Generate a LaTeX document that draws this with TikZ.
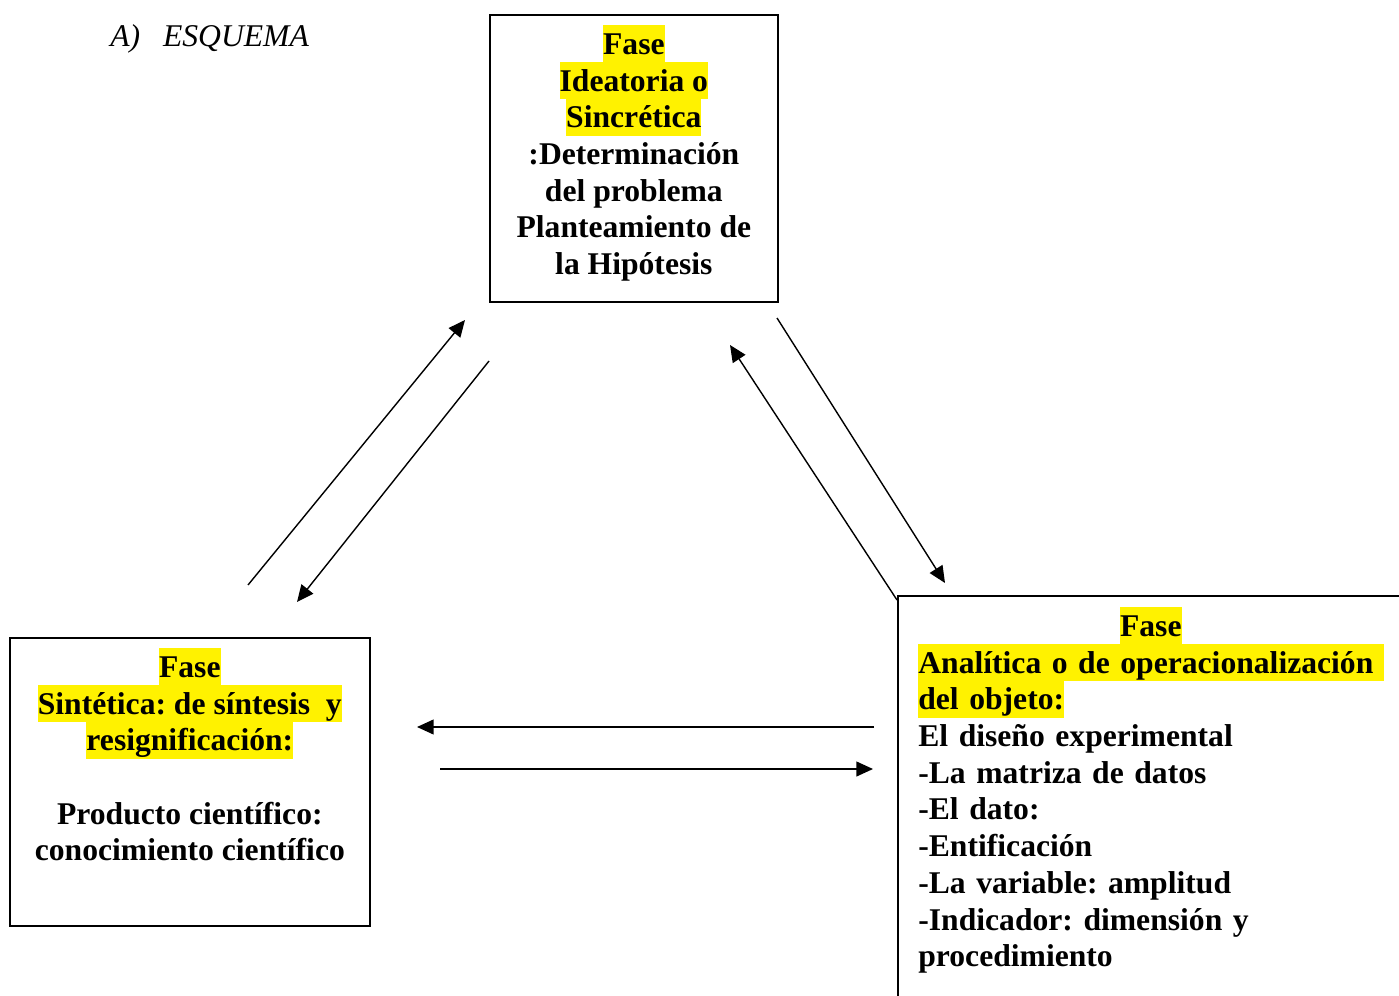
\documentclass[tikz,border=0pt]{standalone}
\usepackage{fontspec}
\setmainfont{Liberation Serif}
\usetikzlibrary{positioning}
\usetikzlibrary{arrows.meta}

\begin{document}
\begin{tikzpicture}[x=0.02cm, y=-0.02cm]
    \colorlet{border}{black}
\colorlet{marker}{yellow}

\newcommand\hlstrut{\rule[-4.4pt]{0pt}{20.9pt}}
\newcommand\hlt[1]{{\fboxsep=0pt\colorbox{marker}{\hlstrut#1}}}

\tikzset{
    phase box/.style={
        draw=border, line width=1pt,
        rectangle, inner sep=0pt,
    },
    phase text/.style={
        inner sep=0pt,
        font=\fontsize{18}{20.9}\selectfont\bfseries\frenchspacing,
    },
    link/.style={
        line width=.8pt,
        -{Triangle[length=9.5pt, width=8.5pt]},
    },
}

\useasboundingbox (0, 0) rectangle (1399, 996);

\node[
    anchor=base west, inner sep=0pt,
    font=\fontsize{18}{20.9}\selectfont\itshape
] (title) at (110, 47) {A)\hspace{13pt}ESQUEMA};

\node[phase box, anchor=north west, minimum width=5.76cm, minimum height=5.74cm]
    (ideatoria) at (489, 14) {};
\node[phase text, align=center, below=.22cm of ideatoria.north] (ideatoria-text) {
    \hlt{Fase}\\
    \hlt{Ideatoria o}\\
    \hlt{Sincrética}\\
    :Determinación\\
    del problema\\
    Planteamiento de\\
    la Hipótesis};

\node[phase box, anchor=north west, minimum width=7.2cm, minimum height=5.76cm]
    (sintetica) at (9, 637) {};
\node[phase text, align=center, below=.22cm of sintetica.north] (sintetica-text) {
    \hlt{Fase}\\
    \hlt{Sintética: de síntesis\ \ y}\\
    \hlt{resignificación:}\\[20.9pt]
    Producto científico:\\
    conocimiento científico};

\begin{scope}
    \clip (0, 0) rectangle (1399, 996);
    \node[phase box, anchor=north west, minimum width=10.4cm, minimum height=8.4cm]
        (analitica) at (897, 595) {};
\end{scope}
\node[
    phase text, align=left, text width=9.3cm,
    below right=.24cm and .42cm of analitica.north west
] (analitica-text) {
    \makebox[\hsize]{\hlt{Fase}}\\
    \hlt{Analítica o de operacionalización\ }\\
    \hlt{del objeto:}\\
    El diseño experimental\\
    -La matriza de datos\\
    -El dato:\\
    -Entificación\\
    -La variable: amplitud\\
    -Indicador: dimensión y\\
    procedimiento};

% ends of the links
\coordinate (syn-out) at (248, 585);
\coordinate (ide-in-l) at (465, 320);
\coordinate (ide-out-l) at (489, 361);
\coordinate (syn-in) at (297, 602);
\coordinate (ide-out-r) at (777, 318);
\coordinate (ana-in) at (945, 583);
\coordinate (ana-out) at (897, 600);
\coordinate (ide-in-r) at (730, 345);
\coordinate (ana-out-h) at (874, 727);
\coordinate (syn-in-h) at (417, 727);
\coordinate (syn-out-h) at (440, 769);
\coordinate (ana-in-h) at (873, 769);

\draw[link] (syn-out) -- (ide-in-l);
\draw[link] (ide-out-l) -- (syn-in);
\draw[link] (ide-out-r) -- (ana-in);
\draw[link] (ana-out) -- (ide-in-r);
\draw[link] (ana-out-h) -- (syn-in-h);
\draw[link] (syn-out-h) -- (ana-in-h);
\end{tikzpicture}
\end{document}
